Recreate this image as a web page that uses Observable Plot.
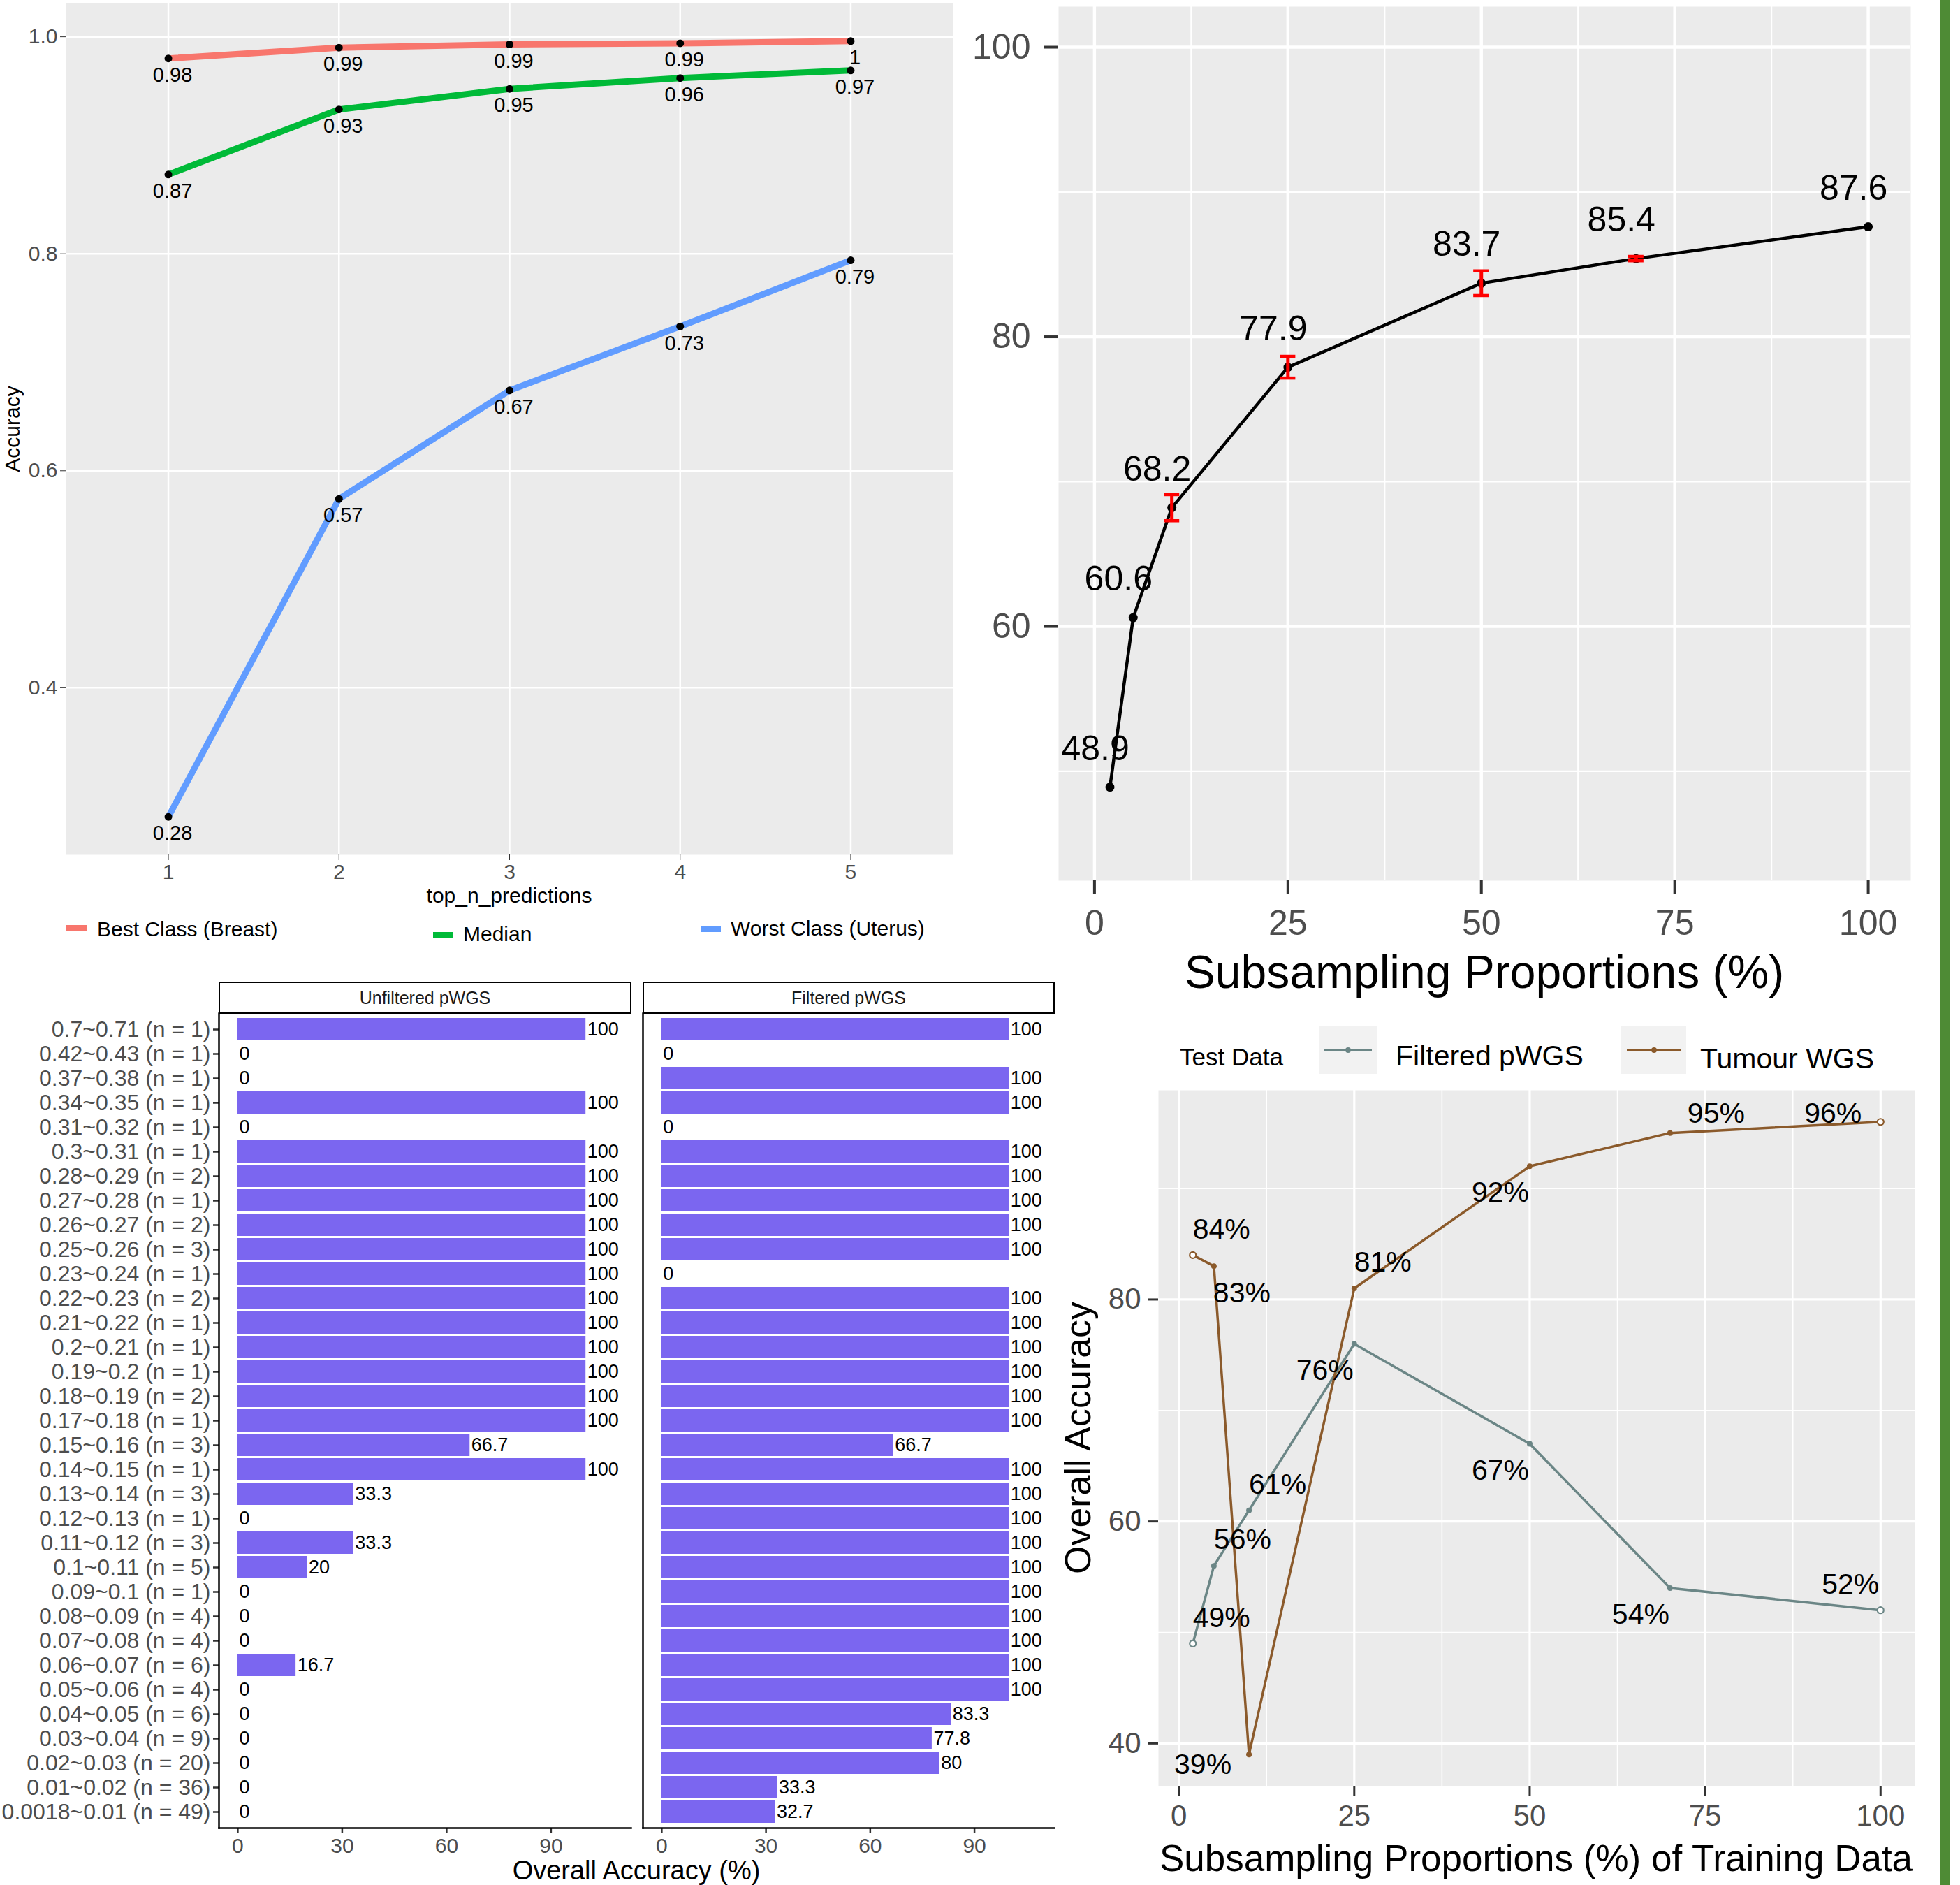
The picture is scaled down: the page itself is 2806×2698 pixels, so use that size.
<!DOCTYPE html>
<html><head><meta charset="utf-8">
<script src="https://cdn.jsdelivr.net/npm/d3@7"></script>
<script src="https://cdn.jsdelivr.net/npm/@observablehq/plot@0.6"></script>
<style>
html,body{margin:0;padding:0;background:#fff;}
#root{position:relative;width:2806px;height:2698px;overflow:hidden;font-family:"Liberation Sans",Arial,Helvetica,sans-serif;background:#fff;}
</style></head><body><div id="root"></div>
<script>
// ---------------- Panel A data ----------------
const topN = [1, 2, 3, 4, 5];
const seriesA = ["Best Class (Breast)", "Median", "Worst Class (Uterus)"];
const bestBreast = [0.980, 0.990, 0.993, 0.994, 0.996];
const medianAcc = [0.873, 0.933, 0.952, 0.962, 0.969];
const worstUterus = [0.281, 0.574, 0.674, 0.733, 0.794];
const yTicksA = [0.4, 0.6, 0.8, 1.0];

// ---------------- Panel B data ----------------
const subsampleB = [2, 5, 10, 25, 50, 70, 100];
const accB = [48.9, 60.6, 68.2, 77.9, 83.7, 85.4, 87.6];
const errB = [0, 0, 0.9, 0.75, 0.85, 0.15, 0];

// ---------------- Panel C data ----------------
const facetsC = ["Unfiltered pWGS", "Filtered pWGS"];
const binsC = ["0.7~0.71 (n = 1)", "0.42~0.43 (n = 1)", "0.37~0.38 (n = 1)", "0.34~0.35 (n = 1)",
  "0.31~0.32 (n = 1)", "0.3~0.31 (n = 1)", "0.28~0.29 (n = 2)", "0.27~0.28 (n = 1)",
  "0.26~0.27 (n = 2)", "0.25~0.26 (n = 3)", "0.23~0.24 (n = 1)", "0.22~0.23 (n = 2)",
  "0.21~0.22 (n = 1)", "0.2~0.21 (n = 1)", "0.19~0.2 (n = 1)", "0.18~0.19 (n = 2)",
  "0.17~0.18 (n = 1)", "0.15~0.16 (n = 3)", "0.14~0.15 (n = 1)", "0.13~0.14 (n = 3)",
  "0.12~0.13 (n = 1)", "0.11~0.12 (n = 3)", "0.1~0.11 (n = 5)", "0.09~0.1 (n = 1)",
  "0.08~0.09 (n = 4)", "0.07~0.08 (n = 4)", "0.06~0.07 (n = 6)", "0.05~0.06 (n = 4)",
  "0.04~0.05 (n = 6)", "0.03~0.04 (n = 9)", "0.02~0.03 (n = 20)", "0.01~0.02 (n = 36)",
  "0.0018~0.01 (n = 49)"];
const unfilteredC = [100, 0, 0, 100, 0, 100, 100, 100, 100, 100, 100, 100, 100, 100, 100, 100, 100,
  66.7, 100, 33.3, 0, 33.3, 20, 0, 0, 0, 16.7, 0, 0, 0, 0, 0, 0];
const filteredC = [100, 0, 100, 100, 0, 100, 100, 100, 100, 100, 0, 100, 100, 100, 100, 100, 100,
  66.7, 100, 100, 100, 100, 100, 100, 100, 100, 100, 100, 83.3, 77.8, 80, 33.3, 32.7];
const xTicksC = [0, 30, 60, 90];

// ---------------- Panel D data ----------------
const seriesD = ["Filtered pWGS", "Tumour WGS"];
const subsampleD = [2, 5, 10, 25, 50, 70, 100];
const filteredD = [49, 56, 61, 76, 67, 54, 52];
const tumourD = [84, 83, 39, 81, 92, 95, 96];
// label placement codes (styling only)
const filteredLabelPos = ["ne", "ne", "ne", "sw", "sw", "sw", "nw"];
const tumourLabelPos = ["ne", "se", "w", "ne", "sw", "ene", "wnw"];

// ---------------- helpers ----------------
const FONT = '"Liberation Sans", Arial, Helvetica, sans-serif';
const root = document.getElementById("root");
function place(el, left, top) {
  el.style.position = "absolute"; el.style.left = left + "px"; el.style.top = top + "px";
  el.style.maxWidth = "none";
  root.appendChild(el);
}
function label(txt, x, y, size, o = {}) {
  const d = document.createElement("div");
  d.textContent = txt;
  const ax = o.ax ?? -50;
  d.style.cssText = `position:absolute;left:${x}px;top:${y}px;font-size:${size}px;line-height:1;white-space:nowrap;color:${o.color || "#000"};font-family:${FONT};transform:translate(${ax}%,-50%)${o.rotate ? ` rotate(${o.rotate}deg)` : ""};`;
  root.appendChild(d);
}
function box(x, y, w, h, css) {
  const d = document.createElement("div");
  d.style.cssText = `position:absolute;left:${x}px;top:${y}px;width:${w}px;height:${h}px;box-sizing:border-box;${css}`;
  root.appendChild(d);
  return d;
}
const grid = (w) => ({stroke: "#fff", strokeOpacity: 1, strokeWidth: w});

// ---------------- Panel A ----------------
const colorsA = ["#F8766D", "#00BA38", "#619CFF"];
const valuesA = [bestBreast, medianAcc, worstUterus];
const dataA = [];
seriesA.forEach((s, i) => topN.forEach((n, j) => dataA.push({series: s, n, acc: valuesA[i][j]})));
const plotA = Plot.plot({
  width: 1380, height: 1300, marginLeft: 94, marginRight: 16, marginTop: 4, marginBottom: 77,
  style: {fontFamily: FONT, fontSize: "30px", background: "transparent"},
  x: {domain: [0.4, 5.6]},
  y: {domain: [0.246, 1.031]},
  color: {domain: seriesA, range: colorsA},
  marks: [
    Plot.frame({fill: "#EBEBEB", stroke: "none"}),
    Plot.gridX(topN, grid(2.5)),
    Plot.gridY(yTicksA, grid(2.5)),
    Plot.axisX(topN, {tickSize: 8, tickPadding: 5, stroke: "#333", fill: "#4D4D4D", label: null, tickFormat: d => String(d)}),
    Plot.axisY(yTicksA, {tickSize: 8, tickPadding: 4, stroke: "#333", fill: "#4D4D4D", label: null, tickFormat: ".1f"}),
    Plot.line(dataA, {x: "n", y: "acc", z: "series", stroke: "series", strokeWidth: 9}),
    Plot.dot(dataA, {x: "n", y: "acc", r: 5.5, fill: "#000"}),
    Plot.text(dataA, {x: "n", y: "acc", text: d => String(+d.acc.toFixed(2)), dx: 6, dy: 24, fontSize: 29, fill: "#000"})
  ]
});
place(plotA, 0, 0);
label("top_n_predictions", 729, 1282, 30);
label("Accuracy", 18, 614, 30, {rotate: -90});
// legend A
const legA = [[95, 1328, 139, 1330], [620, 1338, 663, 1337], [1003, 1329, 1046, 1329]];
seriesA.forEach((s, i) => {
  const [sx, sy, tx, ty] = legA[i];
  box(sx, sy - 4.5, 29, 9, `background:${colorsA[i]};`);
  label(s, tx, ty, 30, {ax: 0});
});

// ---------------- Panel B ----------------
const dataB = subsampleB.map((x, i) => ({x, acc: accB[i], err: errB[i]}));
const withErr = dataB.filter(d => d.err > 0);
const capHalf = 1;
const plotB = Plot.plot({
  width: 1426, height: 1440, marginLeft: 135, marginRight: 71, marginTop: 9, marginBottom: 180,
  style: {fontFamily: FONT, fontSize: "50px", background: "transparent"},
  x: {domain: [-4.64, 105.5]},
  y: {domain: [42.44, 102.8]},
  marks: [
    Plot.frame({fill: "#EBEBEB", stroke: "none"}),
    Plot.gridX([12.5, 37.5, 62.5, 87.5], grid(2.2)),
    Plot.gridY([50, 70, 90], grid(2.2)),
    Plot.gridX([0, 25, 50, 75, 100], grid(4.4)),
    Plot.gridY([60, 80, 100], grid(4.4)),
    Plot.axisX([0, 25, 50, 75, 100], {tickSize: 20, tickPadding: 22, strokeWidth: 4, stroke: "#333", fill: "#4D4D4D", label: null}),
    Plot.axisY([60, 80, 100], {tickSize: 20, tickPadding: 20, strokeWidth: 4, stroke: "#333", fill: "#4D4D4D", label: null}),
    Plot.line(dataB, {x: "x", y: "acc", stroke: "#000", strokeWidth: 4.5}),
    Plot.dot(dataB, {x: "x", y: "acc", r: 6.5, fill: "#000"}),
    Plot.ruleX(withErr, {x: "x", y1: d => d.acc - d.err, y2: d => d.acc + d.err, stroke: "#FF0000", strokeWidth: 5}),
    Plot.ruleY(withErr, {y: d => d.acc - d.err, x1: d => d.x - capHalf, x2: d => d.x + capHalf, stroke: "#FF0000", strokeWidth: 4.5}),
    Plot.ruleY(withErr, {y: d => d.acc + d.err, x1: d => d.x - capHalf, x2: d => d.x + capHalf, stroke: "#FF0000", strokeWidth: 4.5}),
    Plot.text(dataB, {x: "x", y: "acc", text: d => d.acc.toFixed(1), dx: -21, dy: -55, fontSize: 50, fill: "#000"})
  ]
});
place(plotB, 1380, 0);
label("Subsampling Proportions (%)", 2125, 1391, 66);

// ---------------- Panel C ----------------
const colsC = [unfilteredC, filteredC];
function facetPlot(fi, showY) {
  const data = binsC.map((b, i) => ({bin: b, value: colsC[fi][i]}));
  return Plot.plot({
    width: showY ? 920 : 617, height: 1302,
    marginLeft: showY ? 313 : 17, marginRight: showY ? 17 : 11, marginTop: 54, marginBottom: 82,
    style: {fontFamily: FONT, fontSize: "30px", background: "transparent"},
    x: {domain: [-5.4, 113]},
    y: {domain: binsC, paddingInner: 0.1, paddingOuter: 0.15, align: 0.5, axis: showY ? undefined : null},
    marks: [
      Plot.barX(data, {x: "value", y: "bin", fill: "#7B66F0"}),
      Plot.text(data, {x: "value", y: "bin", text: d => String(d.value), textAnchor: "start", dx: 2, fontSize: 27, fill: "#000"}),
      Plot.axisX(xTicksC, {tickSize: 8, tickPadding: 6, strokeWidth: 2.5, stroke: "#333", fill: "#4D4D4D", label: null, fontSize: 30}),
      ...(showY ? [Plot.axisY({tickSize: 8, tickPadding: 4, strokeWidth: 2.5, stroke: "#333", fill: "#4D4D4D", label: null, fontSize: 32})] : []),
      Plot.frame({anchor: "left", stroke: "#000", strokeWidth: 2.5}),
      Plot.frame({anchor: "bottom", stroke: "#000", strokeWidth: 2.5})
    ]
  });
}
place(facetPlot(0, true), 0, 1396);
place(facetPlot(1, false), 903, 1396);
const stripsC = [[313, 591], [920, 590]];
facetsC.forEach((f, i) => {
  const [sx, sw] = stripsC[i];
  box(sx, 1405, sw, 46, "border:2.5px solid #000;background:#fff;");
  label(f, sx + sw / 2, 1428, 25, {color: "#1A1A1A"});
});
label("Overall Accuracy (%)", 911, 2677, 38);

// ---------------- Panel D ----------------
const colorsD = ["#6B8686", "#8B5A2B"];
const posD = [filteredLabelPos, tumourLabelPos];
const valsD = [filteredD, tumourD];
const dataD = [];
seriesD.forEach((s, si) => subsampleD.forEach((x, i) => dataD.push({
  series: s, x, acc: valsD[si][i], pos: posD[si][i], end: i === 0 || i === subsampleD.length - 1
})));
const labelOffsets = {ne: [41, -37], se: [40, 39], sw: [-42, 38], nw: [-43, -37], w: [-66, 15], ene: [66, -28], wnw: [-68, -12]};
const plotD = Plot.plot({
  width: 1306, height: 1258, marginLeft: 158, marginRight: 65, marginTop: 120, marginBottom: 142,
  style: {fontFamily: FONT, fontSize: "42px", background: "transparent"},
  x: {domain: [-2.9, 104.9]},
  y: {domain: [36.15, 98.85]},
  color: {domain: seriesD, range: colorsD},
  marks: [
    Plot.frame({fill: "#EBEBEB", stroke: "none"}),
    Plot.gridX([12.5, 37.5, 62.5, 87.5], grid(1.6)),
    Plot.gridY([50, 70, 90], grid(1.6)),
    Plot.gridX([0, 25, 50, 75, 100], grid(3.2)),
    Plot.gridY([40, 60, 80], grid(3.2)),
    Plot.axisX([0, 25, 50, 75, 100], {tickSize: 14, tickPadding: 13, strokeWidth: 3, stroke: "#333", fill: "#4D4D4D", label: null}),
    Plot.axisY([40, 60, 80], {tickSize: 14, tickPadding: 11, strokeWidth: 3, stroke: "#333", fill: "#4D4D4D", label: null}),
    Plot.line(dataD, {x: "x", y: "acc", z: "series", stroke: "series", strokeWidth: 3.5}),
    Plot.dot(dataD.filter(d => !d.end), {x: "x", y: "acc", r: 4, fill: "series"}),
    Plot.dot(dataD.filter(d => d.end), {x: "x", y: "acc", r: 4.5, fill: "#fff", stroke: "series", strokeWidth: 2.2}),
    ...Object.entries(labelOffsets).map(([k, [dx, dy]]) =>
      Plot.text(dataD.filter(d => d.pos === k), {x: "x", y: "acc", text: d => Math.round(d.acc) + "%", dx, dy, fontSize: 41, fill: "#000"}))
  ]
});
place(plotD, 1500, 1440);
label("Overall Accuracy", 1543, 2058, 52, {rotate: -90});
label("Subsampling Proportions (%) of Training Data", 2199, 2659, 53);
// legend D
label("Test Data", 1689, 1512, 35, {ax: 0});
const legD = [[1888, 84, 1998, 1511], [2321, 93, 2434, 1515]];
seriesD.forEach((s, i) => {
  const [kx, kw, tx, ty] = legD[i];
  box(kx, 1469, kw, 68, "background:#F2F2F2;");
  box(kx + 8, 1503 - 1.75, kw - 16, 3.5, `background:${colorsD[i]};`);
  box(kx + kw / 2 - 4, 1503 - 4, 8, 8, `background:${colorsD[i]};border-radius:50%;`);
  label(s, tx, ty, 41, {ax: 0});
});

// green side bar
box(2777, 0, 15, 2698, "background:#4E8B35;");
</script></body></html>
